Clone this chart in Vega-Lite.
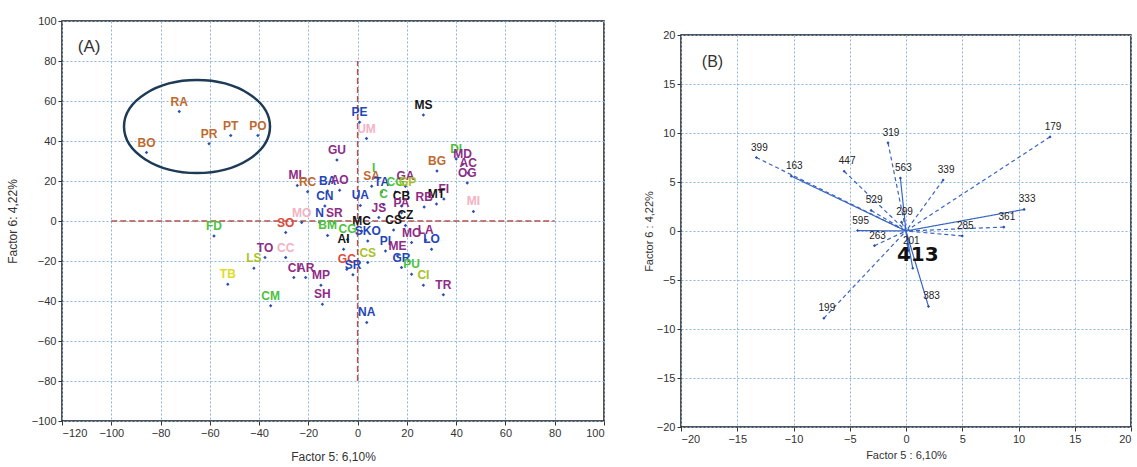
{
  "$schema": "https://vega.github.io/schema/vega-lite/v6.json",
  "background": "white",
  "padding": {"left": 5, "top": 14, "right": 0, "bottom": 0},
  "spacing": 36,
  "datasets": {
    "ptsA": [
      {"lab": "RA", "grp": "orange", "x": -72.4, "y": 54.7},
      {"lab": "BO", "grp": "orange", "x": -85.7, "y": 34.2},
      {"lab": "PR", "grp": "orange", "x": -60.3, "y": 38.6},
      {"lab": "PT", "grp": "orange", "x": -51.5, "y": 42.7},
      {"lab": "PO", "grp": "orange", "x": -40.5, "y": 42.7},
      {"lab": "MS", "grp": "black", "x": 26.7, "y": 53.0},
      {"lab": "PE", "grp": "blue", "x": 0.8, "y": 49.4},
      {"lab": "UM", "grp": "pink", "x": 3.6, "y": 41.2},
      {"lab": "GU", "grp": "purple", "x": -8.4, "y": 30.5},
      {"lab": "BG", "grp": "orange", "x": 32.2, "y": 25.0},
      {"lab": "DI", "grp": "green", "x": 40.0, "y": 31.0},
      {"lab": "MD", "grp": "purple", "x": 42.6, "y": 28.3},
      {"lab": "AC", "grp": "purple", "x": 44.9, "y": 24.0},
      {"lab": "OG", "grp": "purple", "x": 44.5, "y": 19.0},
      {"lab": "MI", "grp": "pink", "x": 47.0, "y": 4.8},
      {"lab": "FI", "grp": "purple", "x": 35.0, "y": 11.0},
      {"lab": "MT", "grp": "black", "x": 32.0, "y": 8.5},
      {"lab": "RB", "grp": "purple", "x": 27.0, "y": 7.0},
      {"lab": "ML", "grp": "purple", "x": -24.5, "y": 17.8},
      {"lab": "RC", "grp": "orange", "x": -20.3, "y": 14.6},
      {"lab": "BA", "grp": "blue", "x": -12.2, "y": 15.0},
      {"lab": "AO", "grp": "purple", "x": -7.3, "y": 15.4},
      {"lab": "CN", "grp": "blue", "x": -13.3, "y": 7.5},
      {"lab": "N", "grp": "blue", "x": -15.4, "y": -0.8},
      {"lab": "SR", "grp": "purple", "x": -9.5, "y": -0.8},
      {"lab": "MO", "grp": "pink", "x": -22.7, "y": -0.8},
      {"lab": "UA", "grp": "blue", "x": 1.1, "y": 7.8},
      {"lab": "SA", "grp": "orange", "x": 5.7, "y": 17.4},
      {"lab": "I", "grp": "green", "x": 6.5, "y": 21.6},
      {"lab": "TA", "grp": "blue", "x": 9.7, "y": 14.5},
      {"lab": "CG", "grp": "green", "x": 15.4, "y": 14.5},
      {"lab": "GA", "grp": "purple", "x": 19.4, "y": 17.4},
      {"lab": "GP", "grp": "yellowgreen", "x": 20.3, "y": 14.5},
      {"lab": "CB", "grp": "black", "x": 17.8, "y": 7.5},
      {"lab": "PA", "grp": "purple", "x": 17.8, "y": 4.1},
      {"lab": "JS", "grp": "purple", "x": 8.6, "y": 1.7},
      {"lab": "C", "grp": "green", "x": 10.5, "y": 8.3},
      {"lab": "CZ", "grp": "black", "x": 19.4, "y": -2.2},
      {"lab": "CS", "grp": "black", "x": 14.6, "y": -4.5},
      {"lab": "MC", "grp": "black", "x": 1.6, "y": -5.0},
      {"lab": "SKO", "grp": "blue", "x": 4.1, "y": -10.0},
      {"lab": "CG", "grp": "green", "x": -4.1, "y": -9.2},
      {"lab": "AI", "grp": "black", "x": -5.7, "y": -14.1},
      {"lab": "CS", "grp": "yellowgreen", "x": 4.1, "y": -20.8},
      {"lab": "PI", "grp": "blue", "x": 11.3, "y": -15.0},
      {"lab": "ME", "grp": "purple", "x": 16.2, "y": -17.5},
      {"lab": "MO", "grp": "purple", "x": 21.9, "y": -10.8},
      {"lab": "LA", "grp": "purple", "x": 27.6, "y": -9.5},
      {"lab": "LO", "grp": "blue", "x": 30.0, "y": -14.1},
      {"lab": "GR", "grp": "blue", "x": 17.8, "y": -23.3},
      {"lab": "PU", "grp": "green", "x": 21.9, "y": -26.6},
      {"lab": "CI", "grp": "yellowgreen", "x": 26.7, "y": -32.1},
      {"lab": "TR", "grp": "purple", "x": 34.8, "y": -36.9},
      {"lab": "FD", "grp": "green", "x": -58.3, "y": -7.5},
      {"lab": "SO", "grp": "red", "x": -29.2, "y": -5.8},
      {"lab": "BM", "grp": "green", "x": -12.2, "y": -7.2},
      {"lab": "TO", "grp": "purple", "x": -37.6, "y": -18.3},
      {"lab": "CC", "grp": "pink", "x": -29.2, "y": -18.3},
      {"lab": "LS", "grp": "yellowgreen", "x": -42.1, "y": -23.6},
      {"lab": "TB", "grp": "yellow", "x": -52.7, "y": -31.6},
      {"lab": "CM", "grp": "green", "x": -35.3, "y": -42.4},
      {"lab": "CI", "grp": "purple", "x": -25.9, "y": -28.3},
      {"lab": "AR", "grp": "purple", "x": -21.1, "y": -28.3},
      {"lab": "MP", "grp": "purple", "x": -14.9, "y": -32.1},
      {"lab": "SH", "grp": "purple", "x": -14.3, "y": -41.6},
      {"lab": "NA", "grp": "blue", "x": 3.7, "y": -50.7},
      {"lab": "GC", "grp": "red", "x": -4.4, "y": -24.1},
      {"lab": "SR", "grp": "blue", "x": -1.9, "y": -26.9}
    ],
    "crossA": [
      {"x": 0, "x2": 0, "y": -80, "y2": 80},
      {"x": -100, "x2": 80, "y": 0, "y2": 0}
    ],
    "ringA": [{"x": -65.2, "y": 47.2}],
    "tagA": [{"x": -109, "y": 87, "t": "(A)"}],
    "tagB": [{"x": -17.2, "y": 17.2, "t": "(B)"}],
    "loadB": [
      {"lab": "179", "kind": "dashed", "x": 12.8, "y": 9.6},
      {"lab": "333", "kind": "solid", "x": 10.5, "y": 2.2},
      {"lab": "361", "kind": "dashed", "x": 8.7, "y": 0.4},
      {"lab": "285", "kind": "dashed", "x": 5.0, "y": -0.5},
      {"lab": "339", "kind": "dashed", "x": 3.3, "y": 5.2},
      {"lab": "563", "kind": "solid", "x": -0.5, "y": 5.4},
      {"lab": "319", "kind": "dashed", "x": -1.6, "y": 9.0},
      {"lab": "447", "kind": "dashed", "x": -5.5, "y": 6.1},
      {"lab": "399", "kind": "dashed", "x": -13.3, "y": 7.5},
      {"lab": "163", "kind": "solid", "x": -10.2, "y": 5.6},
      {"lab": "529", "kind": "dashed", "x": -3.1, "y": 2.1},
      {"lab": "299", "kind": "dashed", "x": -0.4, "y": 0.9},
      {"lab": "595", "kind": "solid", "x": -4.3, "y": 0.05},
      {"lab": "263", "kind": "dashed", "x": -2.8, "y": -1.5},
      {"lab": "201", "kind": "solid", "x": 0.2, "y": -2.0},
      {"lab": "383", "kind": "solid", "x": 2.0, "y": -7.7},
      {"lab": "199", "kind": "dashed", "x": -7.3, "y": -8.9},
      {"lab": "413", "kind": "solid", "x": 0.6, "y": -3.8}
    ]
  },
  "config": {
    "font": "Liberation Sans",
    "view": {"stroke": "#1a1a1a", "strokeWidth": 1.5},
    "axis": {
      "domain": false,
      "grid": true,
      "gridColor": "#8cb6de",
      "gridDash": [2, 2],
      "gridWidth": 1,
      "tickColor": "#333333",
      "tickSize": 4,
      "labelColor": "#333333",
      "labelFontSize": 11,
      "labelFont": "Liberation Sans",
      "titleFont": "Liberation Sans",
      "titleFontSize": 12,
      "titleFontWeight": "normal",
      "titleColor": "#333333"
    }
  },
  "hconcat": [
    {
      "width": 542,
      "height": 400,
      "encoding": {
        "x": {
          "field": "x",
          "type": "quantitative",
          "scale": {"domain": [-120, 100], "nice": false, "zero": false},
          "axis": {"values": [-120, -100, -80, -60, -40, -20, 0, 20, 40, 60, 80, 100], "title": "Factor 5: 6,10%", "titlePadding": 13}
        },
        "y": {
          "field": "y",
          "type": "quantitative",
          "scale": {"domain": [-100, 100], "nice": false, "zero": false},
          "axis": {"values": [-100, -80, -60, -40, -20, 0, 20, 40, 60, 80, 100], "title": "Factor 6: 4,22%", "titlePadding": 12}
        }
      },
      "layer": [
        {
          "data": {"name": "crossA"},
          "mark": {"type": "rule", "color": "#b5524a", "strokeDash": [6, 3], "strokeWidth": 1.5},
          "encoding": {"x2": {"field": "x2"}, "y2": {"field": "y2"}}
        },
        {
          "data": {"name": "ringA"},
          "mark": {"type": "point", "shape": "M -1 0 A 1 0.637 0 1 1 1 0 A 1 0.637 0 1 1 -1 0 Z", "size": 21316, "filled": false, "stroke": "#1d3a56", "strokeWidth": 2.5, "opacity": 1}
        },
        {
          "data": {"name": "ptsA"},
          "mark": {"type": "point", "shape": "diamond", "filled": true, "size": 12, "color": "#2b4fb0", "opacity": 1}
        },
        {
          "data": {"name": "ptsA"},
          "mark": {"type": "text", "dy": -10, "fontSize": 12, "fontWeight": "bold", "font": "Liberation Sans"},
          "encoding": {
            "text": {"field": "lab"},
            "color": {
              "field": "grp",
              "type": "nominal",
              "legend": null,
              "scale": {
                "domain": ["orange", "blue", "purple", "black", "green", "yellow", "yellowgreen", "pink", "red"],
                "range": ["#c0692f", "#2446b8", "#8e2c86", "#151515", "#4cc23c", "#dcdc2a", "#a9c224", "#f2b3c4", "#de4b3a"]
              }
            }
          }
        },
        {
          "data": {"name": "tagA"},
          "mark": {"type": "text", "fontSize": 17, "color": "#333333", "font": "Liberation Sans"},
          "encoding": {"text": {"field": "t"}}
        }
      ]
    },
    {
      "spacing": 1,
      "vconcat": [
        {
          "width": 450,
          "height": 1,
          "view": {"stroke": null},
          "data": {"values": [{"t": ""}]},
          "mark": {"type": "text"},
          "encoding": {"text": {"field": "t"}}
        },
        {
          "width": 450,
          "height": 392,
          "encoding": {
            "x": {
              "field": "x",
              "type": "quantitative",
              "scale": {"domain": [-20, 20], "nice": false, "zero": false},
              "axis": {"values": [-20, -15, -10, -5, 0, 5, 10, 15, 20], "title": "Factor 5 : 6,10%", "titlePadding": 5, "titleFontSize": 11}
            },
            "y": {
              "field": "y",
              "type": "quantitative",
              "scale": {"domain": [-20, 20], "nice": false, "zero": false},
              "axis": {"values": [-20, -15, -10, -5, 0, 5, 10, 15, 20], "title": "Factor 6 : 4,22%", "titlePadding": 2, "titleFontSize": 11}
            }
          },
          "layer": [
            {
              "data": {"name": "loadB"},
              "mark": {"type": "rule", "color": "#3a66c0", "strokeWidth": 1.2},
              "encoding": {
                "x2": {"datum": 0},
                "y2": {"datum": 0},
                "strokeDash": {
                  "field": "kind",
                  "type": "nominal",
                  "legend": null,
                  "scale": {"domain": ["solid", "dashed"], "range": [[1, 0], [4, 3]]}
                }
              }
            },
            {
              "data": {"name": "loadB"},
              "mark": {"type": "point", "shape": "diamond", "filled": true, "size": 10, "color": "#2b4fb0", "opacity": 1}
            },
            {
              "data": {"name": "loadB"},
              "transform": [{"filter": "datum.lab != '413'"}],
              "mark": {"type": "text", "dy": -10, "dx": 3, "fontSize": 10, "color": "#222222", "font": "Liberation Sans"},
              "encoding": {"text": {"field": "lab"}}
            },
            {
              "data": {"name": "loadB"},
              "transform": [{"filter": "datum.lab == '413'"}],
              "mark": {"type": "text", "dy": -13, "dx": 5, "fontSize": 20, "fontWeight": "bold", "color": "#111111", "font": "DejaVu Sans"},
              "encoding": {"text": {"field": "lab"}}
            },
            {
              "data": {"name": "tagB"},
              "mark": {"type": "text", "fontSize": 16, "color": "#333333", "font": "Liberation Sans"},
              "encoding": {"text": {"field": "t"}}
            }
          ]
        }
      ]
    }
  ]
}
